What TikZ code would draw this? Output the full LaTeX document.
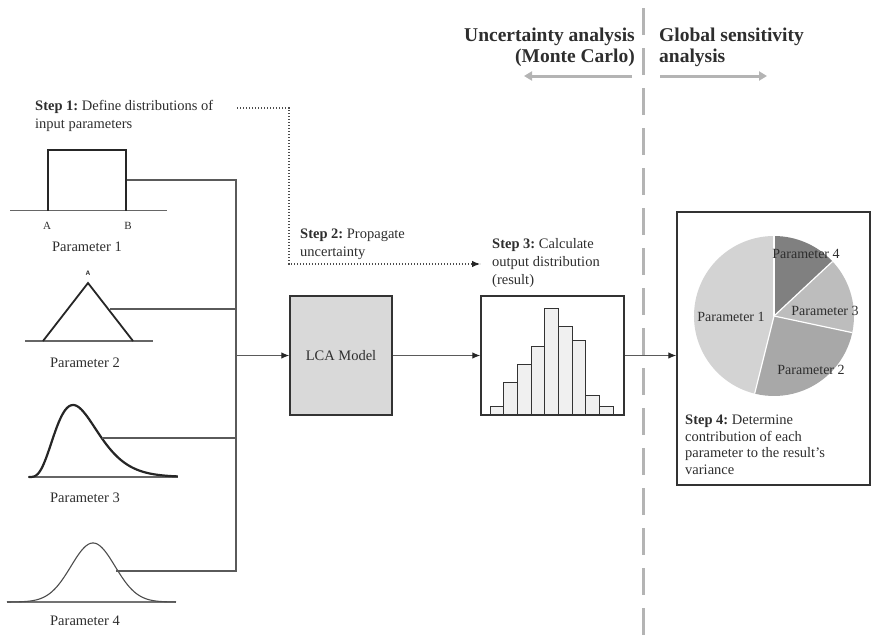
\documentclass[tikz,border=0pt]{standalone}
\usepackage{fontspec}
\setmainfont{Liberation Serif}
\usetikzlibrary{arrows.meta}
\definecolor{ink}{HTML}{2E2E2E}
\definecolor{wirec}{HTML}{5A5A5A}
\definecolor{guide}{HTML}{B4B4B4}
\definecolor{lcafill}{HTML}{D9D9D9}
\definecolor{barfill}{HTML}{F0F0F0}
\definecolor{pieA}{HTML}{D3D3D3}
\definecolor{pieB}{HTML}{A8A8A8}
\definecolor{pieC}{HTML}{BDBDBD}
\definecolor{pieD}{HTML}{808080}
\tikzset{
  txt/.style={font=\fontsize{14.5}{18}\selectfont\frenchspacing, text=ink, inner sep=0pt, align=left},
  smalltxt/.style={font=\fontsize{14.5}{16.5}\selectfont\frenchspacing, text=ink, inner sep=0pt, align=left},
  head/.style={font=\fontsize{19.5}{21}\selectfont\bfseries, text=ink, inner sep=0pt},
  plabel/.style={font=\fontsize{14.5}{18}\selectfont, text=ink, inner sep=0pt},
  slabel/.style={font=\fontsize{14}{16}\selectfont, text=ink, inner sep=0pt},
  wire/.style={draw=wirec, line width=1.1pt},
  feed/.style={wire, -{Latex[length=8pt,width=6.5pt,color=black!85]}},
  trail/.style={draw=black!70, line width=1.1pt, dash pattern=on 1.2pt off 1.8pt},
  curve/.style={draw=black!85, line width=1.8pt},
  axisline/.style={draw=black!60, line width=1.1pt},
  box/.style={draw=black!80, line width=1.4pt, inner sep=0pt},
  bar/.style={draw=black!80, fill=barfill, line width=0.9pt},
  span/.style={draw=guide, line width=3pt, -{Triangle[length=8pt,width=9pt]}},
}
\begin{document}
\begin{tikzpicture}[x=1pt,y=-1pt]
\useasboundingbox (0,0) rectangle (873,640);

% divider between the two kinds of analysis
\draw[draw=guide, line width=3pt, dash pattern=on 27pt off 13pt] (643,8) -- (643,640);
\node[head, anchor=base east, align=right] (ua) at (635,62) {Uncertainty analysis\\(Monte Carlo)};
\node[head, anchor=base west, align=left] (gsa) at (659,62) {Global sensitivity\\analysis};
\coordinate (uaL) at (632,76);
\coordinate (uaT) at (524,76);
\coordinate (gsL) at (660,76);
\coordinate (gsT) at (767,76);
\draw[span] (uaL) -- (uaT);
\draw[span] (gsL) -- (gsT);

% step labels (anchored at the baseline of their last line)
\node[txt, anchor=base west] (s1) at (35,128) {\textbf{Step 1:} Define distributions of\\input parameters};
\node[txt, anchor=base west] (s2) at (300,256) {\textbf{Step 2:} Propagate\\uncertainty};
\node[txt, anchor=base west] (s3) at (492,284) {\textbf{Step 3:} Calculate\\output distribution\\(result)};

% parameter 1: uniform
\draw[axisline] (10,210.5) -- (167,210.5);
\draw[curve] (48,210.5) -- (48,150) -- (126,150) -- (126,210.5);
\node[font=\fontsize{11}{12}\selectfont, text=ink, inner sep=0pt] (pa) at (47,226) {A};
\node[font=\fontsize{11}{12}\selectfont, text=ink, inner sep=0pt] (pb) at (128,226) {B};
\node[plabel] (l1) at (87,247) {Parameter 1};

% parameter 2: triangular
\draw[axisline] (25,341) -- (153,341);
\draw[curve] (43,341) -- (88,283) -- (133,341);
\node[font=\fontsize{6.5}{7}\sffamily\bfseries, text=ink, inner sep=0pt] (pt) at (88,273.5) {A};
\node[plabel] (l2) at (85,363) {Parameter 2};

% parameter 3: skewed
\draw[axisline] (28,477) -- (178,477);
\draw[curve, line width=2.2pt] plot[domain=0.02:3.33, samples=120] ({28+45*\x}, {477-72*(\x*exp(1-\x))^4.25});
\node[plabel] (l3) at (85,498) {Parameter 3};

% parameter 4: normal
\draw[axisline, draw=black!55] (7,602) -- (176,602);
\draw[draw=black!70, line width=1.1pt] plot[domain=7:176, samples=120] (\x, {602-59*exp(-((\x-93)^2)/968)});
\node[plabel] (l4) at (85,621) {Parameter 4};

% collecting bus into the model
\coordinate (p1e) at (127,180);
\coordinate (p2e) at (110,309);
\coordinate (p3e) at (102,438);
\coordinate (p4e) at (116,571);
\coordinate (bustop) at (236,180);
\coordinate (busbot) at (236,571);
\draw[wire] (p1e) -- (bustop) -- (busbot) -- (p4e);
\draw[wire] (p2e) -- (p2e -| bustop);
\draw[wire] (p3e) -- (p3e -| bustop);

% model and result boxes
\node[box, fill=lcafill, minimum width=102pt, minimum height=119pt, plabel] (lca) at (341,355.5) {LCA Model};
\node[box, minimum width=143pt, minimum height=119pt] (hist) at (552.5,355.5) {};
\node[box, minimum width=193pt, minimum height=273pt] (res) at (773.5,348.5) {};

\draw[feed] (lca.west -| bustop) -- (lca.west);
\draw[feed] (lca.east) -- (hist.west);
\draw[feed] (hist.east) -- (hist.east -| res.west);

% dotted propagation path
\coordinate (t0) at (237,108);
\coordinate (t1) at (289,108);
\coordinate (t2) at (289,264);
\coordinate (t3) at (480,264);
\draw[trail] (t0) -- (t1) -- (t2) -- (t3);
\draw[draw=black!85, line width=1pt, -{Latex[length=8pt,width=6.5pt]}] (472,264) -- (t3);

% output histogram
\foreach \t [count=\i from 0] in {406.7,382.7,364,346.7,308.3,326,340.7,395,406.7}
  \draw[bar] ({490+13.67*\i},414) rectangle ({490+13.67*(\i+1)},\t);

% variance contributions
\coordinate (pie) at (774,316);
\fill[pieD] (pie) -- ++(-90:80) arc[start angle=-90, end angle=-43, radius=80] -- cycle;
\fill[pieC] (pie) -- ++(-43:80) arc[start angle=-43, end angle=12, radius=80] -- cycle;
\fill[pieB] (pie) -- ++(12:80) arc[start angle=12, end angle=104, radius=80] -- cycle;
\fill[pieA] (pie) -- ++(104:80) arc[start angle=104, end angle=270, radius=80] -- cycle;
\foreach \a in {-90,-43,12,104}
  \draw[white, line width=1.2pt] (pie) -- ++(\a:80);
\node[slabel] (q4) at (806,254) {Parameter 4};
\node[slabel] (q3) at (825,311) {Parameter 3};
\node[slabel] (q1) at (731,317) {Parameter 1};
\node[slabel] (q2) at (811,370) {Parameter 2};

\node[smalltxt, anchor=base west] (s4) at (685,474) {\textbf{Step 4:} Determine\\contribution of each\\parameter to the result's\\variance};
\end{tikzpicture}
\end{document}
